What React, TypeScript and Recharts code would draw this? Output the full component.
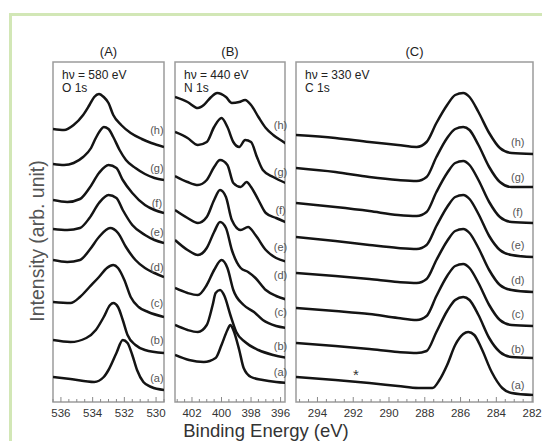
import React from "react";
import { LineChart, Line, XAxis, YAxis, ReferenceArea, ReferenceDot } from "recharts";

type Pt = [number, number];

const W = 542;
const H = 441;
const TOP = 62;
const BOTTOM = 402;
const FONT = "Arial, 'Liberation Sans', sans-serif";

const spectrumNames = ["(a)", "(b)", "(c)", "(d)", "(e)", "(f)", "(g)", "(h)"];

// O 1s, hv = 580 eV  -> [binding energy, stacked intensity]
const o1sA: Pt[] = [[536.5, 25], [535.4, 23], [533.9, 20], [533.3, 25], [533.0, 32], [532.5, 49], [532.1, 62], [531.8, 59], [531.5, 47], [531.2, 32], [530.8, 20], [530.3, 15], [529.5, 12]];
const o1sB: Pt[] = [[536.5, 62], [535.4, 60], [534.4, 64], [533.8, 72], [533.3, 85], [532.9, 97], [532.7, 99], [532.4, 95], [532.1, 82], [531.8, 67], [531.3, 57], [530.7, 52], [529.5, 49]];
const o1sC: Pt[] = [[536.5, 100], [535.4, 99], [534.8, 105], [534.2, 115], [533.6, 125], [533.1, 134], [532.7, 137], [532.4, 134], [532.0, 122], [531.6, 105], [531.1, 95], [530.5, 90], [529.5, 85]];
const o1sD: Pt[] = [[536.5, 142], [535.6, 140], [534.8, 142], [534.2, 152], [533.6, 165], [532.9, 174], [532.4, 169], [531.9, 155], [531.3, 142], [530.7, 134], [530.1, 129], [529.5, 125]];
const o1sE: Pt[] = [[536.5, 173], [535.6, 172], [534.8, 174], [534.2, 184], [533.6, 199], [533.0, 207], [532.5, 204], [532.1, 192], [531.5, 177], [530.7, 167], [530.1, 162], [529.5, 159]];
const o1sF: Pt[] = [[536.5, 202], [535.6, 200], [534.8, 203], [534.2, 214], [533.6, 229], [533.0, 237], [532.5, 234], [532.1, 222], [531.5, 209], [530.7, 197], [530.1, 192], [529.5, 189]];
const o1sG: Pt[] = [[536.5, 238], [535.8, 237], [535.2, 239], [534.6, 245], [534.1, 254], [533.8, 264], [533.5, 272], [533.3, 275], [533.0, 273], [532.7, 265], [532.3, 252], [531.9, 242], [531.3, 234], [530.7, 228], [530.1, 224], [529.5, 222]];
const o1sH: Pt[] = [[536.5, 273], [535.8, 272], [535.2, 277], [534.6, 287], [534.2, 297], [533.9, 305], [533.6, 308], [533.3, 305], [533.0, 299], [532.7, 287], [532.2, 277], [531.6, 269], [530.9, 263], [530.3, 259], [529.5, 255]];
const o1sLabelY = [24, 62, 99, 135, 170, 199, 234, 272];
const o1sTickLabels = [536, 534, 532, 530];

// N 1s, hv = 440 eV
const n1sA: Pt[] = [[403.15, 47], [402.2, 42], [401.2, 40], [400.4, 44], [400.0, 57], [399.6, 72], [399.4, 77], [399.2, 72], [398.8, 52], [398.5, 34], [398.0, 25], [397.2, 22], [396.3, 20], [395.5, 19]];
const n1sB: Pt[] = [[403.15, 77], [402.3, 72], [401.6, 70], [401.0, 77], [400.6, 97], [400.4, 109], [400.1, 112], [399.8, 106], [399.4, 87], [399.0, 70], [398.4, 60], [397.5, 52], [396.5, 47], [395.5, 44]];
const n1sC: Pt[] = [[403.15, 114], [402.3, 109], [401.6, 107], [401.0, 117], [400.5, 132], [400.0, 142], [399.6, 134], [399.2, 112], [398.5, 97], [397.8, 90], [397.2, 82], [396.3, 76], [395.5, 74]];
const n1sD: Pt[] = [[403.15, 162], [402.3, 152], [401.6, 147], [401.0, 154], [400.5, 170], [400.1, 180], [399.7, 174], [399.3, 152], [398.7, 134], [398.2, 130], [397.7, 124], [397.0, 112], [396.3, 106], [395.5, 102]];
const n1sE: Pt[] = [[403.15, 192], [402.3, 184], [401.6, 179], [401.0, 185], [400.5, 202], [400.1, 212], [399.7, 205], [399.3, 182], [398.7, 172], [398.2, 175], [397.7, 167], [397.0, 152], [396.3, 144], [395.5, 140]];
const n1sF: Pt[] = [[403.15, 226], [402.3, 220], [401.6, 217], [401.0, 222], [400.5, 235], [400.1, 242], [399.6, 237], [399.2, 219], [398.7, 215], [398.3, 220], [398.0, 215], [397.5, 202], [397.0, 189], [396.3, 184], [395.5, 179]];
const n1sG: Pt[] = [[403.15, 270], [402.3, 264], [401.6, 257], [401.0, 260], [400.5, 275], [400.0, 284], [399.6, 275], [399.2, 260], [398.8, 255], [398.4, 262], [398.0, 260], [397.6, 245], [397.2, 232], [396.5, 225], [395.5, 218]];
const n1sH: Pt[] = [[403.15, 305], [402.3, 300], [401.6, 294], [401.2, 297], [400.7, 305], [400.3, 309], [399.7, 305], [399.3, 299], [398.8, 300], [398.4, 302], [398.0, 297], [397.5, 285], [397.0, 274], [396.5, 267], [395.8, 260], [395.5, 257]];
const n1sLabelY = [30, 56, 90, 127, 155, 192, 230, 277];
const n1sTickLabels = [402, 400, 398, 396];

// C 1s, hv = 330 eV (spectra b-h share one energy grid)
const c1sEnergy = [295.2, 293.0, 291.1, 289.5, 288.45, 287.9, 287.35, 286.75, 286.3, 285.85, 285.5, 285.0, 284.4, 283.8, 283.15, 281.95];
const c1sB = [59, 56, 53, 50, 49, 51, 70, 91, 102, 105, 102, 87, 64, 50, 45, 44];
const c1sC = [94, 91, 88, 84, 82, 86, 106, 126, 136, 138, 134, 119, 97, 82, 77, 76];
const c1sD = [129, 126, 123, 120, 119, 123, 142, 161, 171, 173, 169, 154, 132, 117, 112, 110];
const c1sE = [165, 161, 157, 154, 153, 157, 176, 195, 205, 207, 203, 188, 166, 152, 147, 145];
const c1sF = [199, 195, 191, 187, 186, 190, 210, 229, 239, 241, 237, 222, 200, 185, 180, 179];
const c1sG = [234, 230, 225, 222, 221, 225, 245, 264, 273, 275, 272, 257, 235, 220, 215, 215];
const c1sH = [267, 264, 260, 257, 255, 260, 279, 297, 307, 309, 305, 290, 269, 254, 249, 248];
const c1sA: Pt[] = [[295.2, 25], [293.0, 22], [291.1, 19], [289.5, 16], [288.35, 14], [287.57, 14], [287.18, 22], [286.75, 37], [286.3, 57], [285.85, 68], [285.57, 70], [285.23, 67], [284.84, 54], [284.26, 30], [283.67, 14], [283.15, 9], [281.95, 7]];
const c1sLabelY = [17, 53, 88, 122, 157, 190, 225, 260];
const c1sTickLabels = [294, 292, 290, 288, 286, 284, 282];
const c1sMark: Pt = [291.85, 27];

const toPts = (pts: Pt[]) => pts.map(([e, v]) => ({ e, v }));
const zip = (es: number[], vs: number[]) => es.map((e, i) => ({ e, v: vs[i] }));
const halfSteps = (lo: number, hi: number) => {
  const out: number[] = [];
  for (let v = Math.floor(hi * 2) / 2; v >= lo - 1e-9; v -= 0.5) out.push(Math.round(v * 10) / 10);
  return out;
};

function EnergyTick(props: any) {
  const { x, y, payload, labeled } = props;
  const major = labeled.includes(payload.value);
  return (
    <g>
      <line x1={x} x2={x} y1={y} y2={y - (major ? 5 : 3)} stroke="#8a8a8a" strokeWidth={1} />
      {major && (
        <text x={x} y={y + 15} textAnchor="middle" fontSize={11.5} fill="#333" fontFamily={FONT}>
          {payload.value}
        </text>
      )}
    </g>
  );
}

type PanelProps = {
  left: number;
  right: number;
  domain: [number, number];
  labeled: number[];
  spectra: { e: number; v: number }[][];
  labelE: number;
  labelY: number[];
  mark?: Pt;
};

function Panel({ left, right, domain, labeled, spectra, labelE, labelY, mark }: PanelProps) {
  const ticks = halfSteps(domain[0], domain[1]);
  return (
    <div style={{ position: "absolute", left: 0, top: 0 }}>
      <LineChart width={W} height={H} margin={{ top: TOP, bottom: H - BOTTOM - 20, left, right: W - right }}>
        <XAxis
          type="number"
          dataKey="e"
          domain={domain}
          reversed
          allowDataOverflow
          ticks={ticks}
          interval={0}
          tickSize={0}
          tickMargin={0}
          axisLine={false}
          tickLine={false}
          height={20}
          tick={(p: any) => <EnergyTick {...p} labeled={labeled} />}
        />
        <YAxis type="number" hide domain={[0, 340]} allowDataOverflow />
        <ReferenceArea x1={domain[0]} x2={domain[1]} y1={0} y2={340} fill="none" stroke="#9c9c9c" strokeWidth={1.5} ifOverflow="visible" />
        {spectra.map((s, i) => (
          <Line
            key={i}
            data={s}
            dataKey="v"
            type="monotone"
            stroke="#141414"
            strokeWidth={2.5}
            dot={false}
            isAnimationActive={false}
          />
        ))}
        {labelY.map((y, i) => (
          <ReferenceDot
            key={"l" + i}
            x={labelE}
            y={y}
            r={0}
            fill="none"
            stroke="none"
            ifOverflow="visible"
            label={{ value: spectrumNames[i], position: "center", fontSize: 11, fill: "#555", fontFamily: FONT }}
          />
        ))}
        {mark && (
          <ReferenceDot
            x={mark[0]}
            y={mark[1]}
            r={0}
            fill="none"
            stroke="none"
            label={{ value: "*", position: "center", fontSize: 15, fill: "#333", fontFamily: FONT }}
          />
        )}
      </LineChart>
    </div>
  );
}

export default function App() {
  const oSpectra = [o1sA, o1sB, o1sC, o1sD, o1sE, o1sF, o1sG, o1sH].map(toPts);
  const nSpectra = [n1sA, n1sB, n1sC, n1sD, n1sE, n1sF, n1sG, n1sH].map(toPts);
  const cSpectra = [toPts(c1sA), ...[c1sB, c1sC, c1sD, c1sE, c1sF, c1sG, c1sH].map((v) => zip(c1sEnergy, v))];

  return (
    <div style={{ position: "absolute", left: 0, top: 0, width: W, height: H, background: "#fff", overflow: "hidden", fontFamily: FONT }}>
      <div style={{ position: "absolute", left: 9, top: 13, width: W, height: H, borderLeft: "3px solid #d2e7b6", borderTop: "3px solid #d2e7b6" }} />
      <Panel left={53} right={164} domain={[529.5, 536.5]} labeled={o1sTickLabels} spectra={oSpectra} labelE={529.95} labelY={o1sLabelY} />
      <Panel left={175} right={285} domain={[395.7, 403.15]} labeled={n1sTickLabels} spectra={nSpectra} labelE={396.0} labelY={n1sLabelY} />
      <Panel left={296} right={533} domain={[281.95, 295.2]} labeled={c1sTickLabels} spectra={cSpectra} labelE={282.8} labelY={c1sLabelY} mark={c1sMark} />
      <svg width={W} height={H} style={{ position: "absolute", left: 0, top: 0, pointerEvents: "none" }} fontFamily={FONT}>
        <text x={108.5} y={55.5} textAnchor="middle" fontSize={13} fill="#222">(A)</text>
        <text x={230} y={55.5} textAnchor="middle" fontSize={13} fill="#222">(B)</text>
        <text x={414.5} y={55.5} textAnchor="middle" fontSize={13} fill="#222">(C)</text>
        <text x={62} y={79} fontSize={12} fill="#222">hν = 580 eV</text>
        <text x={62} y={91.5} fontSize={12} fill="#222">O 1s</text>
        <text x={184} y={79} fontSize={12} fill="#222">hν = 440 eV</text>
        <text x={184} y={91.5} fontSize={12} fill="#222">N 1s</text>
        <text x={305} y={79} fontSize={12} fill="#222">hν = 330 eV</text>
        <text x={305} y={91.5} fontSize={12} fill="#222">C 1s</text>
        <text x={266} y={436.5} textAnchor="middle" fontSize={18.5} fill="#333">Binding Energy (eV)</text>
        <text transform="translate(37,241) rotate(-90)" textAnchor="middle" dominantBaseline="central" fontSize={19.5} fill="#555">
          Intensity (arb. unit)
        </text>
      </svg>
    </div>
  );
}
